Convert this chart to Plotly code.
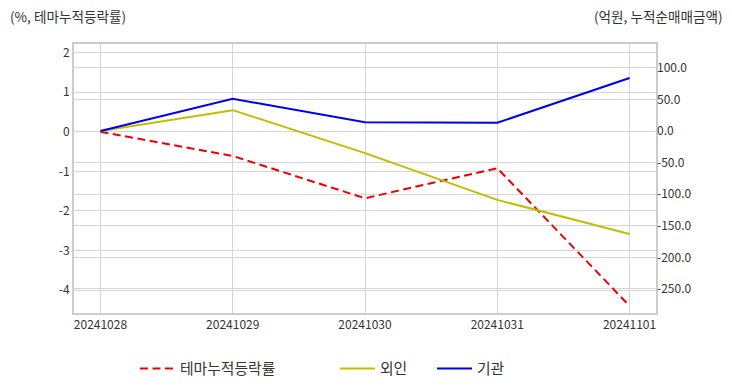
import plotly.graph_objects as go

dates = ["20241028", "20241029", "20241030", "20241031", "20241101"]
theme_rate = [0.0, -0.61, -1.68, -0.92, -4.40]
foreign_amt = [0.0, 33.0, -35.0, -109.0, -163.0]
inst_amt = [0.0, 51.0, 14.0, 13.0, 84.0]

left_ticks = [2, 1, 0, -1, -2, -3, -4]
right_ticks = [100, 50, 0, -50, -100, -150, -200, -250]

FONT = "Noto Sans CJK KR, Malgun Gothic, sans-serif"
GRID = "#d4d4d4"
TXT = "#333333"

fig = go.Figure()
fig.add_trace(go.Scatter(x=dates, y=theme_rate, name="테마누적등락률", mode="lines",
                         line=dict(color="#ee0000", width=2, dash="8px,4.5px"), yaxis="y",
                         legend="legend"))
fig.add_trace(go.Scatter(x=dates, y=foreign_amt, name="외인", mode="lines",
                         line=dict(color="#bfbf00", width=2), yaxis="y2", legend="legend2"))
fig.add_trace(go.Scatter(x=dates, y=inst_amt, name="기관", mode="lines",
                         line=dict(color="#0000ee", width=2), yaxis="y2", legend="legend3"))

leg_common = dict(orientation="h", xref="container", yref="container", y=0.0587,
                  yanchor="middle", xanchor="left", itemwidth=35,
                  font=dict(size=14.8, color=TXT), bgcolor="rgba(0,0,0,0)")

fig.update_layout(
    width=732, height=392,
    margin=dict(l=74, r=76, t=44, b=79),
    paper_bgcolor="white", plot_bgcolor="white",
    font=dict(family=FONT, size=12, color=TXT),
    xaxis=dict(type="category", range=[-0.2, 4.2], showgrid=True, gridcolor=GRID, gridwidth=1,
               showline=True, linecolor="#cccccc", linewidth=2, mirror=True,
               ticks="", tickfont=dict(size=12, color=TXT), zeroline=False),
    yaxis=dict(range=[-4.58, 2.22], tickvals=left_ticks, ticktext=[str(v) for v in left_ticks],
               showgrid=True, gridcolor=GRID, gridwidth=1, zeroline=False,
               showline=True, linecolor="#cccccc", linewidth=2, mirror=True,
               ticks="", tickfont=dict(size=12, color=TXT)),
    yaxis2=dict(range=[-288, 137.7], overlaying="y", side="right", tickvals=right_ticks,
                ticktext=[f"{v:.1f}" for v in right_ticks],
                showgrid=True, gridcolor=GRID, gridwidth=1, zeroline=False,
                ticks="", tickfont=dict(size=12, color=TXT)),
    legend=dict(x=135 / 732, **leg_common),
    legend2=dict(x=335 / 732, **leg_common),
    legend3=dict(x=432 / 732, **leg_common),
    showlegend=True,
)

fig.add_annotation(text="(%, 테마누적등락률)", xref="paper", yref="paper", x=-0.114, y=1.104,
                   xanchor="left", yanchor="middle", showarrow=False,
                   font=dict(size=13.6, color=TXT))
fig.add_annotation(text="(억원, 누적순매매금액)", xref="paper", yref="paper", x=1.118, y=1.104,
                   xanchor="right", yanchor="middle", showarrow=False,
                   font=dict(size=13.6, color=TXT))

fig.write_html("out.html", config={"displayModeBar": False},
               post_script="document.body.style.margin='0';")
